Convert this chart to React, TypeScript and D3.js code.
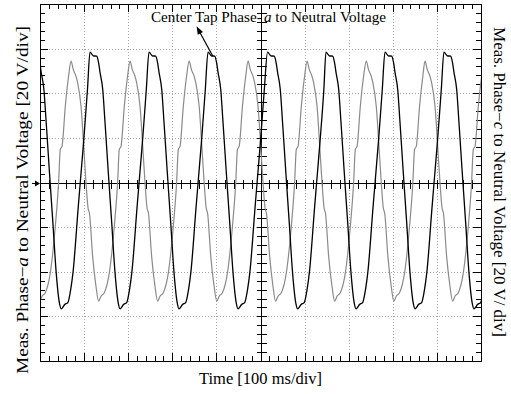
import React from "react";
import * as d3 from "d3";

// ---- data (oscilloscope divisions) ----
const X_DIV = [0, 10];
const Y_DIV = [-4, 4];
const GRID_X = [1, 2, 3, 4, 6, 7, 8, 9];
const GRID_Y = [-3, -2, -1, 1, 2, 3];

// one-cycle waveform shape: [time offset from peak (div), value (div)]
const phaseAShape: [number, number][] = [
  [0, 2.92], [0.075, 2.84], [0.152, 2.83], [0.193, 2.69], [0.227, 2.47], [0.288, 2.09],
  [0.34, 1.35], [0.415, 0.22], [0.492, -0.9], [0.567, -2.02], [0.642, -2.71], [0.68, -2.83],
  [0.714, -2.8], [0.755, -2.74], [0.832, -2.69], [0.896, -2.4], [0.948, -2.02], [1.068, -0.54],
  [1.113, 0], [1.193, 0.96], [1.277, 2.09],
];
const phaseCShape: [number, number][] = [
  [0, 2.72], [0.052, 2.53], [0.113, 2.38], [0.15, 2.24], [0.227, 1.71], [0.302, 0.59],
  [0.34, 0], [0.385, -0.56], [0.42, -0.7], [0.49, -1.65], [0.567, -2.33], [0.626, -2.66],
  [0.68, -2.55], [0.755, -2.47], [0.868, -2.03], [0.982, -0.98], [1.057, 0], [1.095, 0.74],
  [1.134, 0.81], [1.209, 1.71], [1.283, 2.38],
];
// peak times of each cycle (div)
const phaseAPeaks = [-0.2, 1.134, 2.472, 3.81, 5.16, 6.485, 7.823, 9.16];
const phaseCPeaks = [-0.635, 0.703, 2.041, 3.382, 4.717, 6.055, 7.398, 8.73];

const TITLE = "Center Tap Phase-";
const TITLE_VAR = "a";
const TITLE_REST = " to Neutral Voltage";
const ARROW = { x1: 3.92, y1: 2.83, x2: 3.55, y2: 3.5 };

function buildTrace(peaks: number[], shape: [number, number][]) {
  const pts: [number, number][] = [];
  peaks.forEach((p) => shape.forEach(([o, v]) => pts.push([p + o, v])));
  return pts;
}

export default function App() {
  const W = 511, H = 394;
  const L = 40, R = 481, T = 4, B = 361;
  const x = d3.scaleLinear().domain(X_DIV).range([L, R]);
  const y = d3.scaleLinear().domain(Y_DIV).range([B, T]);
  const line = d3.line<[number, number]>().x((d) => x(d[0])).y((d) => y(d[1])).curve(d3.curveMonotoneX);
  const aTrace = buildTrace(phaseAPeaks, phaseAShape);
  const cTrace = buildTrace(phaseCPeaks, phaseCShape);

  const minorX = d3.range(0, 50 + 1).map((i) => i / 5);
  const minorY = d3.range(0, 40 + 1).map((i) => -4 + i / 5);
  const isMajor = (v: number) => Math.abs(v - Math.round(v)) < 1e-6;
  const rx = (v: number) => Math.round(x(v)) + 0.5;
  const ry = (v: number) => Math.round(y(v)) + 0.5;

  const ax1 = x(ARROW.x1), ay1 = y(ARROW.y1), ax2 = x(ARROW.x2), ay2 = y(ARROW.y2);
  const ang = Math.atan2(ay2 - ay1, ax2 - ax1);
  const hl = 8, hw = 3;
  const head = [
    [ax2, ay2],
    [ax2 - hl * Math.cos(ang) + hw * Math.sin(ang), ay2 - hl * Math.sin(ang) - hw * Math.cos(ang)],
    [ax2 - hl * Math.cos(ang) - hw * Math.sin(ang), ay2 - hl * Math.sin(ang) + hw * Math.cos(ang)],
  ];

  const font = "'Liberation Serif', 'Times New Roman', serif";
  const cy0 = ry(0);
  const cx5 = rx(5);
  return (
    <svg width={W} height={H} style={{ position: "absolute", left: 0, top: 0, background: "#fff" }} fontFamily={font}>
      <defs>
        <clipPath id="plot">
          <rect x={L} y={T} width={R - L} height={B - T} />
        </clipPath>
      </defs>
      <rect x={0} y={0} width={W} height={H} fill="#fff" />
      {/* grid */}
      {GRID_X.map((g) => (
        <line key={"gx" + g} x1={rx(g)} x2={rx(g)} y1={T} y2={B} stroke="#a8a8a8" strokeWidth={1} strokeDasharray="1 2" />
      ))}
      {GRID_Y.map((g) => (
        <line key={"gy" + g} x1={L} x2={R} y1={ry(g)} y2={ry(g)} stroke="#a8a8a8" strokeWidth={1} strokeDasharray="1 2" />
      ))}
      <g shapeRendering="crispEdges">
        {/* center axes */}
        <line x1={L} x2={R} y1={cy0} y2={cy0} stroke="#000" strokeWidth={1.5} />
        <line x1={cx5} x2={cx5} y1={T} y2={B} stroke="#000" strokeWidth={1.5} />
        {minorX.map((v) => (
          <line key={"cx" + v} x1={rx(v)} x2={rx(v)} y1={cy0 - 4} y2={cy0 + 5} stroke="#000" strokeWidth={1} />
        ))}
        {minorY.map((v) => (
          <line key={"cy" + v} x1={cx5 - 5} x2={cx5 + 5} y1={ry(v)} y2={ry(v)} stroke="#000" strokeWidth={1} />
        ))}
        {/* border ticks */}
        {minorX.map((v) => {
          const len = isMajor(v) ? 8 : 5;
          return (
            <g key={"bx" + v}>
              <line x1={rx(v)} x2={rx(v)} y1={T} y2={T + len} stroke="#000" strokeWidth={1} />
              <line x1={rx(v)} x2={rx(v)} y1={B} y2={B - len} stroke="#000" strokeWidth={1} />
            </g>
          );
        })}
        {minorY.map((v) => {
          const len = isMajor(v) ? 8 : 5;
          return (
            <g key={"by" + v}>
              <line x1={L} x2={L + len} y1={ry(v)} y2={ry(v)} stroke="#000" strokeWidth={1} />
              <line x1={R} x2={R - len} y1={ry(v)} y2={ry(v)} stroke="#000" strokeWidth={1} />
            </g>
          );
        })}
      </g>
      {/* traces */}
      <g clipPath="url(#plot)">
        <path d={line(cTrace) || ""} fill="none" stroke="#8a8a8a" strokeWidth={1.2} strokeLinejoin="round" />
        <path d={line(aTrace) || ""} fill="none" stroke="#000" strokeWidth={1.3} strokeLinejoin="round" />
      </g>
      {/* frame */}
      <rect x={L + 0.5} y={T + 0.5} width={R - L} height={B - T} fill="none" stroke="#000" strokeWidth={1.5} shapeRendering="crispEdges" />
      {/* zero marker */}
      <line x1={L - 8} x2={L - 3} y1={cy0} y2={cy0} stroke="#000" strokeWidth={1} />
      <path d={`M${L - 5},${cy0 - 3}L${L},${cy0}L${L - 5},${cy0 + 3}Z`} fill="#000" />
      {/* annotation */}
      <text x={268.5} y={22} fontSize={14} textAnchor="middle" fill="#000" textLength={235} lengthAdjust="spacingAndGlyphs">
        {TITLE}
        <tspan fontStyle="italic" dx={2}>{TITLE_VAR}</tspan>
        {TITLE_REST}
      </text>
      <line x1={ax1} y1={ay1} x2={ax2 - 5 * Math.cos(ang)} y2={ay2 - 5 * Math.sin(ang)} stroke="#000" strokeWidth={1.2} />
      <polygon points={head.map((p) => p.join(",")).join(" ")} fill="#000" />
      {/* axis labels */}
      <text transform={`translate(28,200) rotate(-90)`} fontSize={16.5} textAnchor="middle" fill="#000" textLength={348} lengthAdjust="spacingAndGlyphs">
        Meas. Phase−<tspan fontStyle="italic">a</tspan> to Neutral Voltage [20 V/div]
      </text>
      <text transform={`translate(494,182) rotate(90)`} fontSize={16} textAnchor="middle" fill="#000" textLength={310} lengthAdjust="spacingAndGlyphs">
        Meas. Phase−<tspan fontStyle="italic">c</tspan> to Neutral Voltage [20 V/ div]
      </text>
      <text x={260.5} y={384} fontSize={16} textAnchor="middle" fill="#000" textLength={123} lengthAdjust="spacingAndGlyphs">
        Time [100 ms/div]
      </text>
    </svg>
  );
}
